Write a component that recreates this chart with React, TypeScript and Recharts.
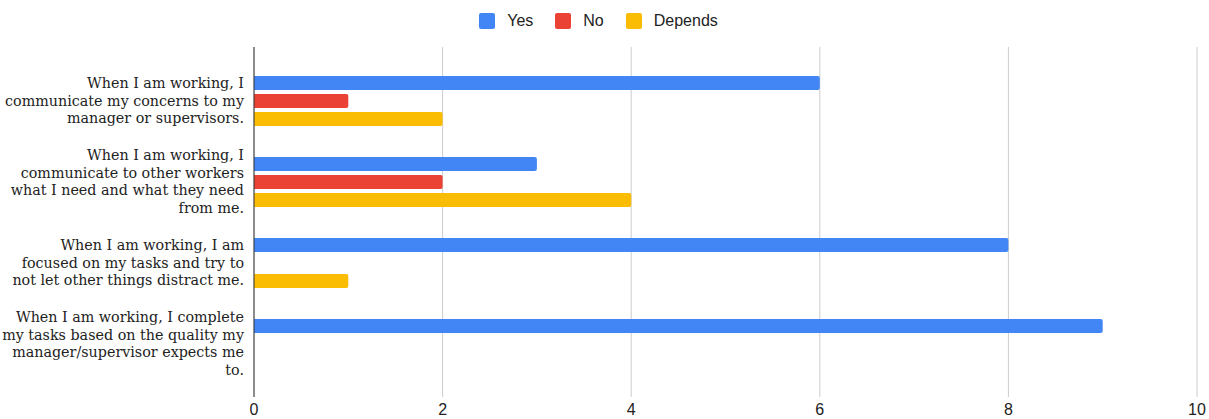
import React from 'react';
import { BarChart, Bar, XAxis, YAxis, CartesianGrid, Legend } from 'recharts';

// vragen (y-as), elk als losse regels zoals in het origineel
const questions = [
  ['When I am working, I', 'communicate my concerns to my', 'manager or supervisors.'],
  ['When I am working, I', 'communicate to other workers', 'what I need and what they need', 'from me.'],
  ['When I am working, I am', 'focused on my tasks and try to', 'not let other things distract me.'],
  ['When I am working, I complete', 'my tasks based on the quality my', 'manager/supervisor expects me', 'to.'],
];
const yesValues = [6, 3, 8, 9];
const noValues = [1, 2, 0, 0];
const dependsValues = [2, 4, 1, 0];
const xTicks = [0, 2, 4, 6, 8, 10];

const series = [
  { key: 'yes', name: 'Yes', color: '#4285F4' },
  { key: 'no', name: 'No', color: '#EA4335' },
  { key: 'depends', name: 'Depends', color: '#FBBC04' },
];

const data = questions.map((lines, i) => ({
  q: lines.join(' '),
  yes: yesValues[i],
  no: noValues[i],
  depends: dependsValues[i],
}));

const QuestionTick = (props: any) => {
  const { x, y, payload } = props;
  const lines = questions[payload.index] || [payload.value];
  const lh = 17.5;
  const start = -((lines.length - 1) * lh) / 2;
  return (
    <text
      x={x - 2}
      y={y}
      textAnchor="end"
      fill="#222"
      style={{ fontFamily: '"DejaVu Serif", serif', fontSize: 14.3 }}
    >
      {lines.map((l, i) => (
        <tspan key={i} x={x - 2} y={y + start + i * lh} dy="0.35em">
          {l}
        </tspan>
      ))}
    </text>
  );
};

const LegendContent = () => (
  <div
    style={{
      display: 'flex',
      justifyContent: 'center',
      alignItems: 'center',
      height: 24,
      fontFamily: '"Liberation Sans", Arial, sans-serif',
      fontSize: 16,
      color: '#222',
    }}
  >
    {series.map(s => (
      <div key={s.key} style={{ display: 'flex', alignItems: 'center', margin: '0 11px' }}>
        <span
          style={{
            width: 16,
            height: 16,
            borderRadius: 2,
            background: s.color,
            display: 'inline-block',
            marginRight: 12,
          }}
        />
        <span style={{ color: '#222' }}>{s.name}</span>
      </div>
    ))}
  </div>
);

export default function App() {
  return (
    <div style={{ position: 'absolute', left: 0, top: 0, background: '#fff' }}>
      <BarChart
        width={1209}
        height={419}
        data={data}
        layout="vertical"
        margin={{ top: 23, right: 12, bottom: 0, left: 0 }}
        barSize={14}
        barGap={4}
      >
        <CartesianGrid horizontal={false} stroke="#cccccc" />
        <XAxis
          type="number"
          domain={[0, 10]}
          ticks={xTicks}
          axisLine={false}
          tickLine={false}
          tickSize={0}
          tickMargin={7}
          height={22}
          tick={{ fill: '#222', fontSize: 16, fontFamily: '"Liberation Sans", Arial, sans-serif' }}
        />
        <YAxis
          type="category"
          dataKey="q"
          width={254}
          axisLine={{ stroke: '#333', strokeWidth: 1 }}
          tickLine={false}
          padding={{ top: 13, bottom: 13 }}
          tick={<QuestionTick />}
          interval={0}
        />
        <Legend verticalAlign="top" wrapperStyle={{ top: 9 }} content={<LegendContent />} />
        {series.map(s => (
          <Bar
            key={s.key}
            dataKey={s.key}
            name={s.name}
            fill={s.color}
            radius={[0, 2, 2, 0]}
            isAnimationActive={false}
          />
        ))}
      </BarChart>
    </div>
  );
}
